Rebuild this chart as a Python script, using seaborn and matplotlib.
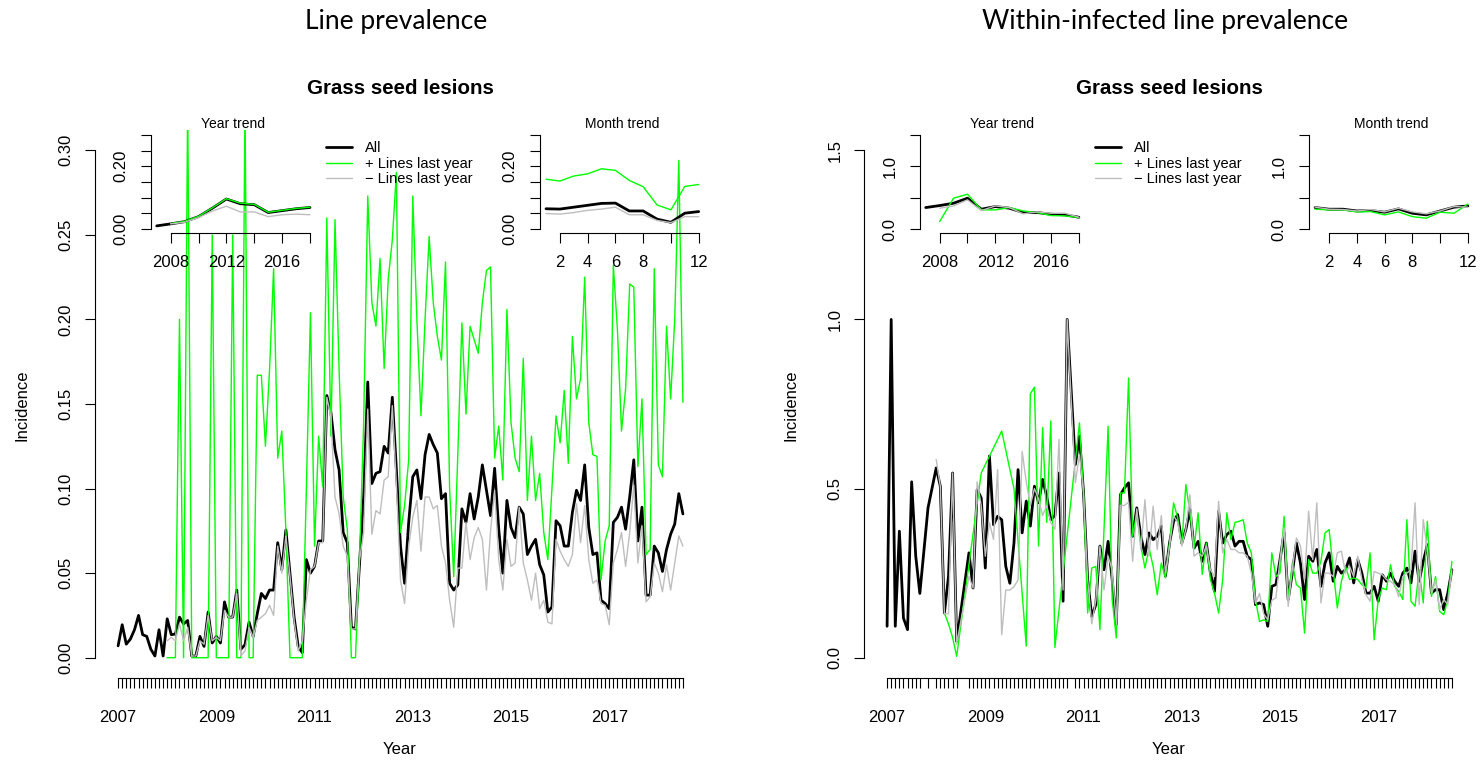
import numpy as np
import pandas as pd
import matplotlib
matplotlib.use('Agg')
import matplotlib.pyplot as plt
import seaborn as sns

sns.set_theme(style='ticks')
plt.rcParams['font.family'] = ['Liberation Sans', 'DejaVu Sans']
plt.rcParams['text.color'] = 'black'
plt.rcParams['axes.labelcolor'] = 'black'
plt.rcParams['xtick.color'] = 'black'
plt.rcParams['ytick.color'] = 'black'

nan = np.nan

#%% data: month index 0 = Jan 2007 ... 138 = Jul 2018
months_left = list(range(139))

# line prevalence, all lines
left_all = [0.007, 0.0195, 0.008, 0.011, 0.0165, 0.025, 0.0136, 0.0126, 0.005, 0.001, 0.0165, 0.001,
            0.023, 0.0136, 0.014, 0.024, 0.020, 0.022, 0.001, 0.001, 0.0126, 0.0067, 0.027, 0.0087,
            0.0126, 0.0087, 0.033, 0.024, 0.024, 0.040, 0.005, 0.0077, 0.021, 0.0126, 0.026, 0.038,
            0.035, 0.040, 0.040, 0.068, 0.052, 0.0756, 0.050, 0.024, 0.0067, 0.003, 0.058, 0.050,
            0.054, 0.069, 0.069, 0.155, 0.145, 0.123, 0.111, 0.074, 0.068, 0.018, 0.017, 0.056,
            0.095, 0.163, 0.103, 0.109, 0.110, 0.125, 0.121, 0.154, 0.111, 0.066, 0.044, 0.080,
            0.107, 0.111, 0.094, 0.120, 0.132, 0.126, 0.121, 0.094, 0.097, 0.044, 0.040, 0.043,
            0.088, 0.080, 0.097, 0.082, 0.095, 0.114, 0.099, 0.084, 0.112, 0.076, 0.050, 0.093,
            0.077, 0.071, 0.089, 0.085, 0.061, 0.066, 0.070, 0.055, 0.049, 0.027, 0.030, 0.081,
            0.078, 0.066, 0.066, 0.086, 0.099, 0.093, 0.114, 0.077, 0.061, 0.062, 0.034, 0.032,
            0.029, 0.080, 0.083, 0.089, 0.076, 0.095, 0.117, 0.069, 0.089, 0.037, 0.037, 0.066,
            0.062, 0.051, 0.064, 0.073, 0.079, 0.097, 0.085]

# lines infected last year
left_pos = [nan] * 12 + [
            0, 0, 0, 0.20, 0, 0.33, 0, 0, 0, 0, 0, 0.25,
            0, 0, 0, 0, 0.25, 0, 0, 0.33, 0, 0, 0.167, 0.167,
            0.125, 0.17, 0.23, 0.118, 0.134, 0.075, 0, 0, 0, 0, 0.10, 0.204,
            0.066, 0.131, 0.101, 0.26, 0.131, 0.259, 0.17, 0.095, 0.076, 0.0, 0.0, 0.06,
            0.139, 0.273, 0.21, 0.196, 0.236, 0.171, 0.224, 0.247, 0.287, 0.074, 0.09, 0.117,
            0.273, 0.20, 0.143, 0.20, 0.249, 0.21, 0.19, 0.176, 0.234, 0.10, 0.048, 0.12,
            0.198, 0.144, 0.196, 0.188, 0.180, 0.21, 0.229, 0.231, 0.118, 0.137, 0.105, 0.206,
            0.139, 0.118, 0.110, 0.177, 0.093, 0.131, 0.093, 0.109, 0.074, 0.058, 0.10, 0.143,
            0.127, 0.158, 0.115, 0.190, 0.153, 0.165, 0.225, 0.139, 0.120, 0.119, 0.046, 0.069,
            0.078, 0.232, 0.194, 0.134, 0.159, 0.221, 0.219, 0.113, 0.153, 0.061, 0.064, 0.230,
            0.114, 0.107, 0.196, 0.153, 0.20, 0.294, 0.151]

# lines not infected last year
left_neg = [nan] * 12 + [
            0.010, 0.012, 0.010, 0.020, 0.010, 0.018, 0.001, 0.001, 0.010, 0.008, 0.025, 0.010,
            0.012, 0.010, 0.028, 0.024, 0.024, 0.038, 0.001, 0.004, 0.018, 0.012, 0.022, 0.024,
            0.026, 0.031, 0.025, 0.066, 0.050, 0.072, 0.048, 0.022, 0.004, 0.010, 0.034, 0.052,
            0.054, 0.068, 0.068, 0.154, 0.142, 0.095, 0.085, 0.066, 0.060, 0.017, 0.017, 0.058,
            0.074, 0.147, 0.073, 0.087, 0.085, 0.105, 0.107, 0.149, 0.102, 0.046, 0.032, 0.066,
            0.083, 0.093, 0.063, 0.095, 0.095, 0.088, 0.090, 0.066, 0.056, 0.034, 0.018, 0.053,
            0.053, 0.080, 0.058, 0.071, 0.077, 0.070, 0.040, 0.075, 0.099, 0.058, 0.040, 0.070,
            0.054, 0.056, 0.089, 0.056, 0.046, 0.034, 0.050, 0.029, 0.034, 0.021, 0.020, 0.070,
            0.063, 0.058, 0.054, 0.061, 0.091, 0.068, 0.090, 0.058, 0.044, 0.046, 0.032, 0.031,
            0.0195, 0.056, 0.064, 0.074, 0.054, 0.074, 0.102, 0.056, 0.078, 0.033, 0.036, 0.056,
            0.050, 0.039, 0.055, 0.040, 0.056, 0.072, 0.066]

# within-infected: only months with infected lines
months_right = (list(range(0, 9)) + [10] + list(range(12, 18)) + list(range(20, 45))
                + list(range(46, 139)))

right_all = [0.093, 1.0, 0.093, 0.374, 0.117, 0.083, 0.52, 0.30, 0.19,
             0.443,
             0.561, 0.507, 0.132, 0.24, 0.546, 0.048,
             0.31, 0.206, 0.497, 0.472, 0.265, 0.596, 0.393, 0.418, 0.408, 0.27, 0.22, 0.339,
             0.556, 0.369, 0.463, 0.389, 0.507, 0.458, 0.527, 0.477, 0.408, 0.42, 0.546, 0.167, 1.0,
             0.571, 0.655, 0.487, 0.231, 0.122, 0.157, 0.33, 0.26, 0.344, 0.231, 0.098, 0.482,
             0.502, 0.517, 0.359, 0.443, 0.359, 0.305, 0.369, 0.349, 0.359, 0.389, 0.241, 0.339,
             0.403, 0.423, 0.339, 0.379, 0.438, 0.324, 0.344, 0.285, 0.339, 0.25, 0.196, 0.433,
             0.339, 0.364, 0.374, 0.33, 0.344, 0.344, 0.30, 0.29, 0.157,
             0.162, 0.157, 0.093, 0.211, 0.216, 0.29, 0.369, 0.172, 0.25, 0.339, 0.28, 0.172,
             0.30, 0.285, 0.32, 0.211, 0.28, 0.31, 0.226, 0.27, 0.25, 0.26, 0.295, 0.221,
             0.29, 0.25, 0.191, 0.191, 0.211, 0.167, 0.245, 0.226, 0.25, 0.226, 0.211, 0.25,
             0.265, 0.221, 0.315, 0.226, 0.285, 0.334, 0.191, 0.201, 0.201, 0.142, 0.191, 0.26]

right_pos = [nan] * 9 + [nan] + [
             nan, nan, 0.132, 0.10, 0.06, 0.004,
             nan, nan, nan, 0.546, nan, nan, nan, nan, 0.67, nan, nan, 0.5,
             nan, nan, 0.034, 0.78, 0.80, 0.33, 0.68, 0.40, 0.70, 0.03, nan, nan, nan,
             nan, 0.694, 0.487, 0.132, 0.265, 0.27, 0.083, 0.38, 0.684, 0.172, 0.058, 0.487,
             0.487, 0.827, 0.359, 0.428, 0.33, 0.265, 0.324, 0.27, 0.186, 0.28, 0.236, 0.339,
             0.458, 0.413, 0.334, 0.512, 0.428, 0.324, 0.428, 0.246, 0.339, 0.231, 0.191, 0.132,
             0.231, 0.428, 0.349, 0.40, 0.403, 0.408, 0.339, 0.31, 0.172,
             0.107, 0.112, 0.107, 0.31, 0.24, 0.25, 0.418, 0.172, 0.28, 0.216, 0.206, 0.073,
             0.29, 0.25, 0.25, 0.285, 0.369, 0.379, 0.26, 0.147, 0.226, 0.27, 0.231, 0.236,
             0.231, 0.216, 0.206, 0.31, 0.053, 0.172, 0.206, 0.201, 0.275, 0.211, 0.196, 0.172,
             0.408, 0.167, 0.152, 0.26, 0.162, 0.403, 0.181, 0.24, 0.137, 0.127, 0.172, 0.285]

right_neg = [nan] * 9 + [nan] + [
             0.586, 0.507, 0.13, 0.13, 0.546, 0.04,
             0.24, 0.206, 0.52, 0.45, 0.30, 0.40, 0.35, 0.556, 0.068, 0.2, 0.2, 0.21,
             0.23, 0.61, 0.52, 0.45, 0.50, 0.47, 0.42, 0.45, 0.40, 0.38, 0.645, 0.20, 1.0,
             0.517, 0.60, 0.487, 0.231, 0.10, 0.17, 0.33, 0.20, 0.30, 0.26, 0.098, 0.45,
             0.45, 0.46, 0.285, 0.44, 0.32, 0.467, 0.30, 0.448, 0.32, 0.42, 0.25, 0.33,
             0.42, 0.40, 0.33, 0.38, 0.482, 0.30, 0.31, 0.30, 0.33, 0.26, 0.24, 0.462,
             0.31, 0.35, 0.32, 0.32, 0.31, 0.31, 0.30, 0.25, 0.16,
             0.19, 0.13, 0.112, 0.17, 0.177, 0.29, 0.384, 0.152, 0.26, 0.354, 0.33, 0.23,
             0.433, 0.29, 0.458, 0.162, 0.25, 0.25, 0.24, 0.31, 0.315, 0.25, 0.27, 0.24,
             0.30, 0.231, 0.186, 0.167, 0.255, 0.25, 0.245, 0.231, 0.226, 0.216, 0.18, 0.24,
             0.25, 0.26, 0.458, 0.157, 0.408, 0.32, 0.19, 0.23, 0.142, 0.172, 0.157, 0.26]

# trends
years = list(range(2007, 2019))
left_year_all = [0.0106, 0.017, 0.024, 0.040, 0.067, 0.096, 0.081, 0.078, 0.053, 0.059, 0.065, 0.069]
left_year_pos = [nan, 0.018, 0.025, 0.041, 0.068, 0.097, 0.083, 0.079, 0.054, 0.060, 0.066, 0.070]
left_year_neg = [nan, 0.017, 0.022, 0.037, 0.058, 0.073, 0.055, 0.055, 0.040, 0.046, 0.048, 0.046]
right_year_all = [0.344, 0.376, 0.413, 0.493, 0.318, 0.36, 0.334, 0.265, 0.265, 0.238, 0.228, 0.19]
right_year_pos = [nan, 0.122, 0.493, 0.556, 0.307, 0.307, 0.344, 0.29, 0.265, 0.217, 0.212, 0.185]
right_year_neg = [nan, 0.334, 0.37, 0.466, 0.297, 0.37, 0.344, 0.244, 0.275, 0.254, 0.254, 0.19]

month_nums = list(range(1, 13))
left_month_all = [0.065, 0.064, 0.070, 0.076, 0.082, 0.083, 0.058, 0.058, 0.032, 0.022, 0.051, 0.056]
left_month_pos = [0.159, 0.153, 0.169, 0.176, 0.192, 0.187, 0.155, 0.135, 0.077, 0.0615, 0.136, 0.142]
left_month_neg = [0.050, 0.048, 0.053, 0.060, 0.064, 0.070, 0.046, 0.046, 0.028, 0.021, 0.040, 0.040]
right_month_all = [0.344, 0.318, 0.318, 0.29, 0.297, 0.27, 0.323, 0.254, 0.228, 0.29, 0.35, 0.37]
right_month_pos = [0.318, 0.307, 0.307, 0.275, 0.28, 0.228, 0.275, 0.20, 0.175, 0.27, 0.254, 0.40]
right_month_neg = [0.35, 0.318, 0.313, 0.29, 0.313, 0.275, 0.334, 0.275, 0.244, 0.29, 0.36, 0.35]

#%% layout helpers
W, H = 1481, 763
GREEN = '#00ff00'
GREY = '#bebebe'

def box(l, t, r, b):
    return [l / W, 1 - b / H, (r - l) / W, (b - t) / H]

def draw(ax, x, a, p, n, lw_all=2.0):
    df = pd.DataFrame({'x': x, 'all': a, 'pos': p, 'neg': n})
    sns.lineplot(data=df, x='x', y='all', ax=ax, color='black', linewidth=lw_all, estimator=None)
    sns.lineplot(data=df, x='x', y='pos', ax=ax, color=GREEN, linewidth=1.0, estimator=None)
    sns.lineplot(data=df, x='x', y='neg', ax=ax, color=GREY, linewidth=1.0, estimator=None)
    ax.set_xlabel('')
    ax.set_ylabel('')

def r_style(ax, xb, yb):
    ax.set_facecolor('none')
    for s in ['top', 'right']:
        ax.spines[s].set_visible(False)
    for s in ['left', 'bottom']:
        ax.spines[s].set_linewidth(0.8)
        ax.spines[s].set_color('black')
    ax.spines['bottom'].set_bounds(*xb)
    ax.spines['left'].set_bounds(*yb)
    ax.tick_params(axis='both', direction='out', length=7, width=0.8, colors='black',
                   labelsize=12)
    ax.tick_params(axis='y', pad=9)
    for t in ax.get_yticklabels():
        t.set_rotation(90)
        t.set_va('center')

fig = plt.figure(figsize=(W / 100, H / 100), dpi=100)

panels = [
    dict(main=(95.5, 130, 705.5, 678), x=months_left, a=left_all, p=left_pos, n=left_neg,
         ymax=0.3, yt=[0, 0.05, 0.10, 0.15, 0.20, 0.25, 0.30], fmt='{:.2f}',
         yins=[0, 0.05, 0.10, 0.15, 0.20, 0.25, 0.30], yinslab={0: '0.00', 0.2: '0.20'},
         year=(150.6, 316.1), month=(539.9, 704.8), leg=(326, 141),
         ya=left_year_all, yp=left_year_pos, yn=left_year_neg,
         ma=left_month_all, mp=left_month_pos, mn=left_month_neg,
         title='Line prevalence', cx=400),
    dict(main=(864.5, 130, 1474.5, 678), x=months_right, a=right_all, p=right_pos, n=right_neg,
         ymax=1.5, yt=[0, 0.5, 1.0, 1.5], fmt='{:.1f}',
         yins=[0, 0.5, 1.0, 1.5], yinslab={0: '0.0', 1.0: '1.0'},
         year=(919.6, 1085), month=(1309, 1474), leg=(1095, 141),
         ya=right_year_all, yp=right_year_pos, yn=right_year_neg,
         ma=right_month_all, mp=right_month_pos, mn=right_month_neg,
         title='Within-infected line prevalence', cx=1169),
]

for pn in panels:
    ax = fig.add_axes(box(*pn['main']))
    draw(ax, pn['x'], pn['a'], pn['p'], pn['n'])
    ymax = pn['ymax']
    ax.set_xlim(-0.04 * 138, 138 * 1.04)
    ax.set_ylim(-0.04 * ymax, ymax * 1.04)
    ax.set_xticks(pn['x'])
    ax.set_xticklabels([str(2007 + m // 12) if m % 24 == 0 else '' for m in pn['x']])
    ax.set_yticks(pn['yt'])
    ax.set_yticklabels([pn['fmt'].format(v) for v in pn['yt']])
    r_style(ax, (0, 138), (0, ymax))
    ax.tick_params(axis='x', pad=16)

    cx = pn['cx']
    fig.text(cx / W, 1 - 89 / H, 'Grass seed lesions', ha='center', va='center',
             fontsize=14.8, fontweight='bold')
    fig.text(cx / W, 1 - 750 / H, 'Year', ha='center', va='center', fontsize=12)
    fig.text((pn['main'][0] - 73) / W, 1 - 405 / H, 'Incidence', ha='center', va='center',
             fontsize=12, rotation=90)
    fig.text((cx - 4) / W, 1 - 22 / H, pn['title'], ha='center', va='center',
             fontsize=19, family=['Lato', 'DejaVu Sans'])

    # legend
    handles = [plt.Line2D([], [], color='black', lw=2.0),
               plt.Line2D([], [], color=GREEN, lw=1.0),
               plt.Line2D([], [], color=GREY, lw=1.0)]
    lx, ly = pn['leg']
    fig.legend(handles, ['All', '+ Lines last year', '\u2212 Lines last year'],
               loc='upper left', bbox_to_anchor=(lx / W, 1 - ly / H), frameon=False,
               fontsize=10.5, handlelength=1.8, handletextpad=0.9, labelspacing=0.12,
               borderpad=0, borderaxespad=0)

    # year trend inset
    l, r = pn['year']
    ai = fig.add_axes(box(l, 131, r, 233))
    draw(ai, years, pn['ya'], pn['yp'], pn['yn'])
    ai.set_xlim(2006.56, 2018.44)
    ai.set_ylim(-0.04 * ymax, ymax * 1.04)
    xt = [2008, 2010, 2012, 2014, 2016, 2018]
    ai.set_xticks(xt)
    ai.set_xticklabels([str(v) if v in (2008, 2012, 2016) else '' for v in xt])
    ai.set_yticks(pn['yins'])
    ai.set_yticklabels([pn['yinslab'].get(v, '') for v in pn['yins']])
    r_style(ai, (2008, 2018), (0, ymax))
    ai.tick_params(axis='x', pad=9)
    ai.set_title('Year trend', fontsize=10, pad=2)

    # month trend inset
    l, r = pn['month']
    am = fig.add_axes(box(l, 131, r, 233))
    draw(am, month_nums, pn['ma'], pn['mp'], pn['mn'])
    am.set_xlim(0.56, 12.44)
    am.set_ylim(-0.04 * ymax, ymax * 1.04)
    xt = [2, 4, 6, 8, 10, 12]
    am.set_xticks(xt)
    am.set_xticklabels([str(v) if v != 10 else '' for v in xt])
    am.set_yticks(pn['yins'])
    am.set_yticklabels([pn['yinslab'].get(v, '') for v in pn['yins']])
    r_style(am, (2, 12), (0, ymax))
    am.tick_params(axis='x', pad=9)
    am.set_title('Month trend', fontsize=10, pad=2)

fig.savefig('out.png', dpi=100)
